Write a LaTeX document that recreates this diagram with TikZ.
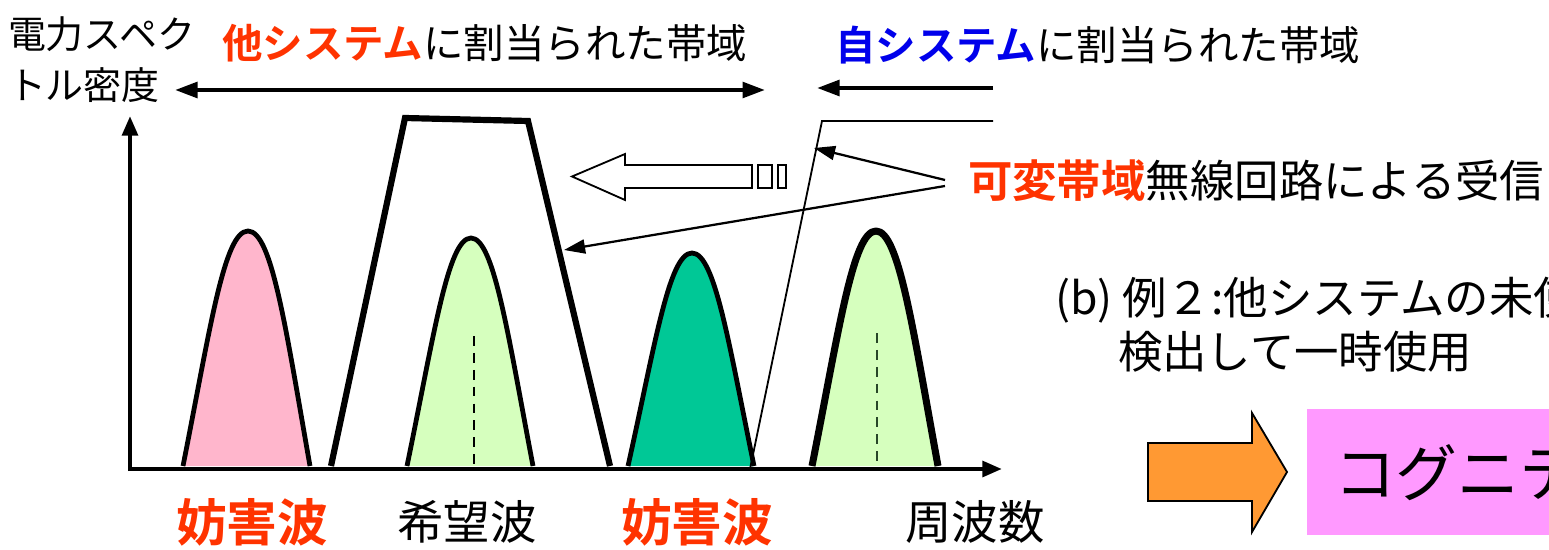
\documentclass[tikz,border=0pt]{standalone}
\usepackage{fontspec}
\setmainfont{Noto Sans CJK JP}[BoldFont={Noto Sans CJK JP Bold}]
\usetikzlibrary{arrows.meta}
\definecolor{redtxt}{RGB}{255,51,0}
\definecolor{bluetxt}{RGB}{0,0,235}
\definecolor{pinkfill}{RGB}{255,182,204}
\definecolor{greenfill}{RGB}{214,255,190}
\definecolor{tealfill}{RGB}{0,200,150}
\definecolor{orangefill}{RGB}{255,153,51}
\definecolor{boxpink}{RGB}{255,153,255}
\definecolor{dashgreen}{RGB}{40,70,40}
\newcommand{\fsz}[1]{\fontsize{#1}{#1}\selectfont}
\tikzset{
  lbl/.style={inner sep=0pt, outer sep=0pt},
  peak/.style={draw=black, line width=3.4pt, line join=round},
  axisline/.style={line width=3.2pt, -{Triangle[length=14pt,width=11pt]}},
  bandarrow/.style={line width=3pt},
  pointer/.style={line width=1.6pt, -{Triangle[length=15pt,width=10pt]}},
  centreline/.style={line width=2pt, dash pattern=on 7pt off 5pt},
}
\begin{document}
\begin{tikzpicture}[x=0.025cm,y=-0.025cm]
\useasboundingbox (0,0) rectangle (1549,550);
\clip (0,0) rectangle (1549,550);

% axes
\coordinate (origin) at (128,469);
\coordinate (ytop) at (130,116);
\coordinate (xend) at (1002,469);

% peaks
\path[peak, fill=pinkfill] (183,466) .. controls (210,330) and (224,231) .. (248,231)
   .. controls (272,231) and (286,330) .. (310,466);
\path[peak, fill=greenfill] (407,466) .. controls (434,335) and (448,238) .. (471,238)
   .. controls (494,238) and (508,335) .. (533,466);
\path[peak, fill=tealfill] (628,466) .. controls (655,345) and (669,253) .. (692,253)
   .. controls (715,253) and (729,345) .. (754,466);
\path[peak, fill=greenfill, line width=5pt] (812,466) .. controls (839,330) and (853,231) .. (876,231)
   .. controls (899,231) and (913,330) .. (938,466);
\draw[centreline] (474,336) -- (474,468);
\draw[centreline, draw=dashgreen] (877,333) -- (877,468);

% trapezoid (filter)
\draw[line width=4.4pt, line join=miter] (331,466) -- (405,118) -- (528,121) -- (610,466);

% thin variable band line
\coordinate (vb0) at (750,469);
\coordinate (vb1) at (822,121);
\coordinate (vb2) at (993,121);
\draw[line width=1.3pt] (vb0) -- (vb1) -- (vb2);

% axes drawn over
\draw[axisline] (origin) -- (xend);
\draw[axisline] (130,471) -- (ytop);

% band arrows
\coordinate (ob0) at (175,90);
\coordinate (ob1) at (765,90);
\draw[bandarrow, {Triangle[length=16pt,width=11pt]}-{Triangle[length=16pt,width=11pt]}] (ob0) -- (ob1);
\coordinate (sb0) at (993,88);
\coordinate (sb1) at (817,88);
\draw[bandarrow, -{Triangle[length=16pt,width=11pt]}] (sb0) -- (sb1);

% hollow arrow
\draw[line width=1.3pt, fill=white] (752,165) -- (625,165) -- (625,154) -- (572,176.5) -- (625,200) -- (625,188) -- (752,188) -- cycle;
\draw[line width=1.3pt] (758,165) rectangle (772,188);
\draw[line width=1.3pt] (778,165) rectangle (786,188);

% texts
\node[lbl, anchor=west] (ylab1) at (8,34) {\fsz{27pt}電力スペク};
\node[lbl, anchor=west] (ylab2) at (8,85) {\fsz{27pt}トル密度};
\node[lbl, anchor=west] (other) at (222,43) {\fsz{28.8pt}\textcolor{redtxt}{\bfseries 他システム}に割当られた帯域};
\node[lbl, anchor=west] (self) at (835,45) {\fsz{28.8pt}\textcolor{bluetxt}{\bfseries 自システム}に割当られた帯域};
\node[lbl, anchor=west] (recv) at (968,181) {\fsz{31.6pt}\textcolor{redtxt}{\bfseries 可変帯域}無線回路による受信};
\node[lbl, anchor=west] (b1) at (1055,300) {\fsz{31.6pt}(b) 例２:他システムの未使};
\node[lbl, anchor=west] (b2) at (1118,352) {\fsz{31.6pt}検出して一時使用};

\node[lbl] (int1) at (252,522) {\fsz{36pt}\textcolor{redtxt}{\bfseries 妨害波}};
\node[lbl] (want) at (467,522) {\fsz{33pt}希望波};
\node[lbl] (int2) at (697,522) {\fsz{36pt}\textcolor{redtxt}{\bfseries 妨害波}};
\node[lbl] (freq) at (975,522) {\fsz{33pt}周波数};

% pointers from label
\coordinate (p0) at (945,180);
\coordinate (p1) at (945,186);
\coordinate (t0) at (814,148);
\coordinate (t1) at (564,250);
\draw[pointer] (p0) -- (t0);
\draw[pointer] (p1) -- (t1);

% orange arrow
\draw[line width=1.3pt, fill=orangefill] (1148,443) -- (1252,443) -- (1252,413) -- (1287,472) -- (1252,532) -- (1252,501) -- (1148,501) -- cycle;

% cognitive box
\node[lbl, fill=boxpink, minimum width=300*0.025cm, minimum height=126*0.025cm, anchor=north west] (cogbox) at (1307,409) {};
\node[lbl, anchor=west] (cog) at (1334,473) {\fsz{44pt}コグニテ};
\end{tikzpicture}
\end{document}
